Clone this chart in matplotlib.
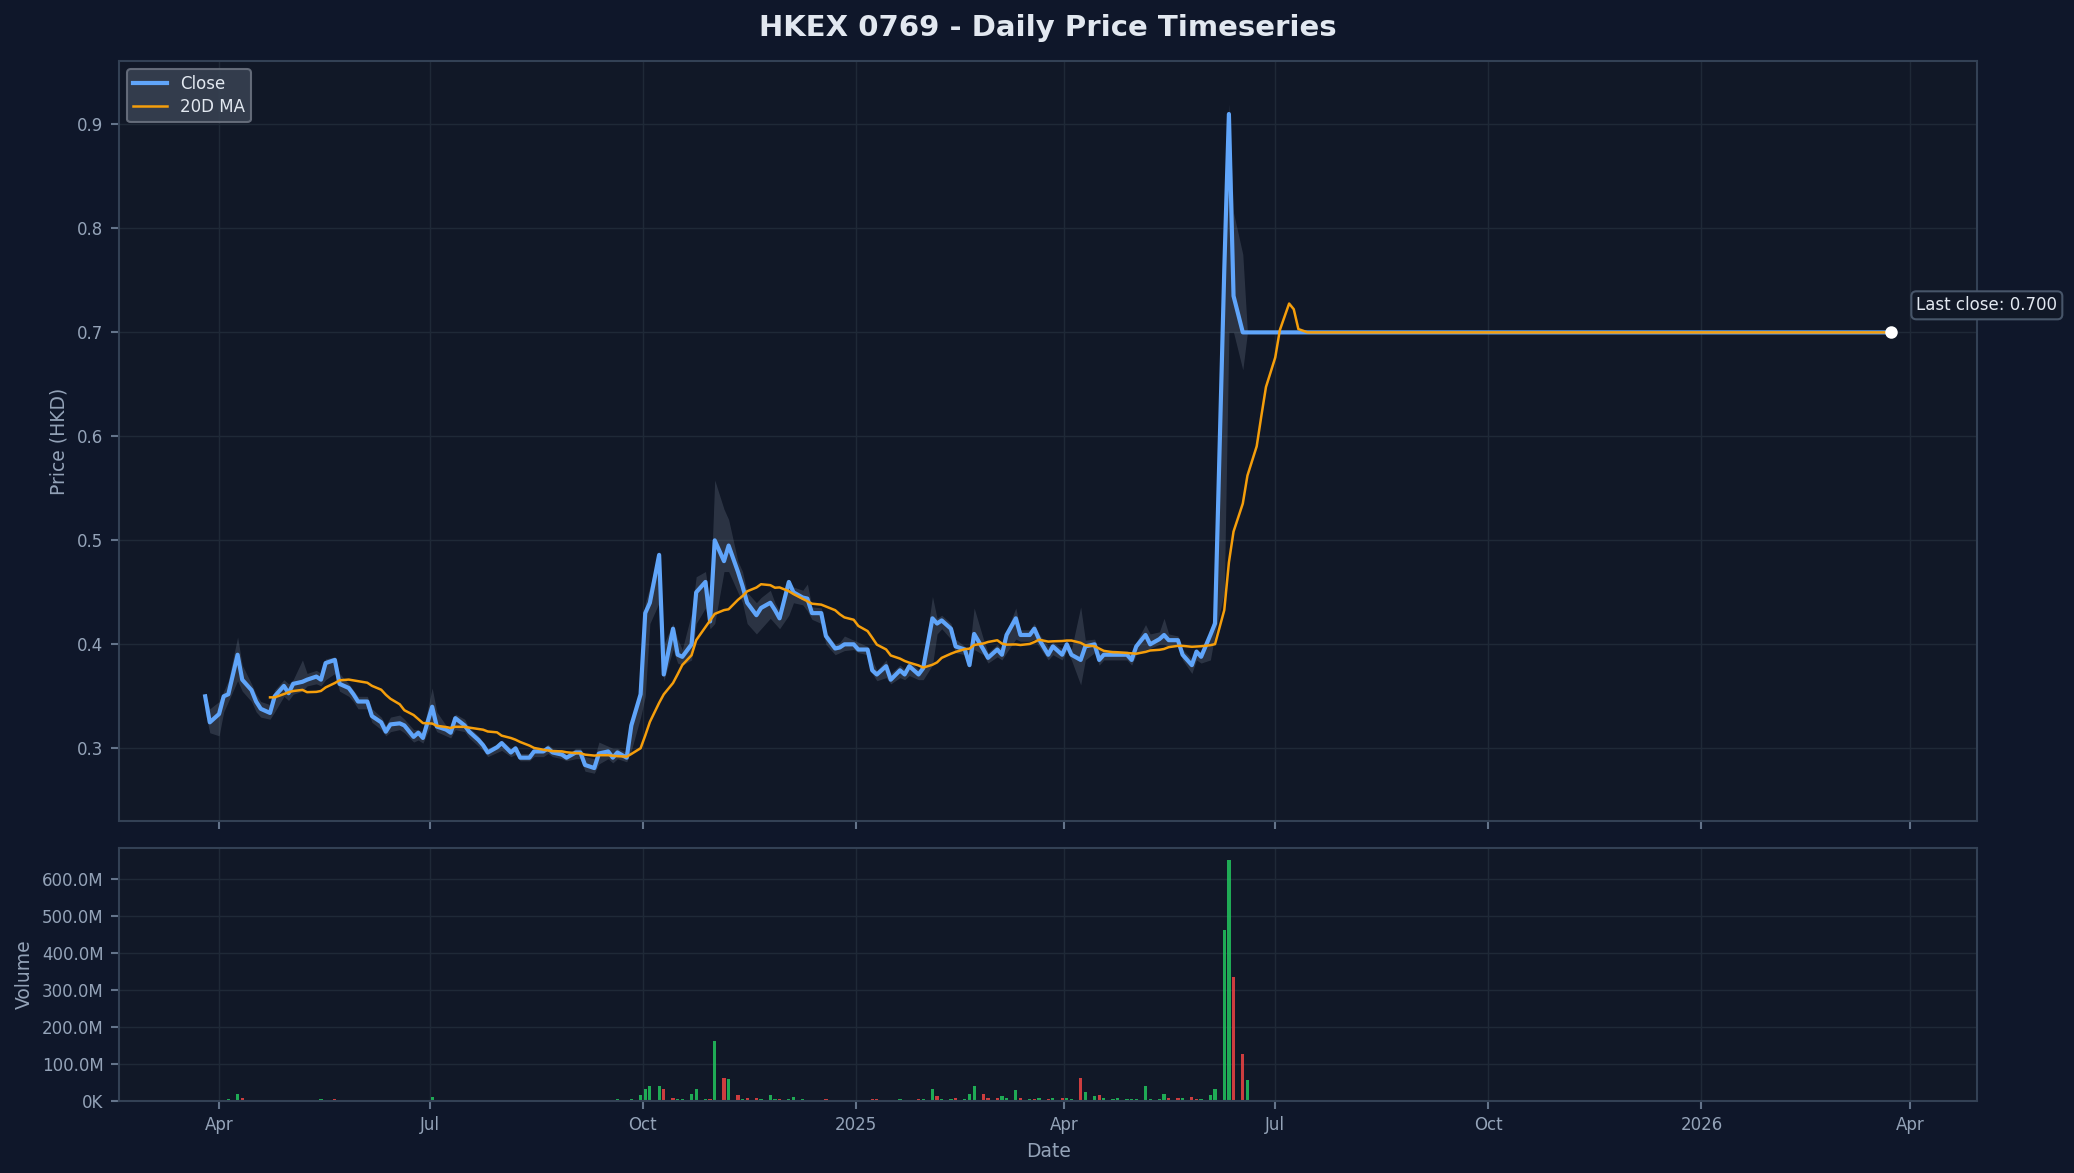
import matplotlib
matplotlib.use("Agg")
import matplotlib.pyplot as plt
import matplotlib.dates as mdates
import matplotlib.ticker as mticker
import numpy as np
import pandas as pd

# samples every 2 business days from 2024-03-26, one line per month
start = "2024-03-26"
end = "2026-03-25"

close = [
    0.350, 0.325,
    0.333, 0.350, 0.352, 0.390, 0.366, 0.356, 0.345, 0.338, 0.334, 0.350, 0.360,
    0.353, 0.362, 0.364, 0.366, 0.369, 0.366, 0.382, 0.385, 0.362, 0.358, 0.352, 0.345,
    0.345, 0.331, 0.325, 0.316, 0.323, 0.324, 0.322, 0.311, 0.315, 0.310,
    0.340, 0.321, 0.318, 0.315, 0.329, 0.322, 0.316, 0.308, 0.303, 0.296, 0.301,
    0.305, 0.296, 0.300, 0.291, 0.291, 0.297, 0.297, 0.300, 0.296, 0.294, 0.291,
    0.296, 0.296, 0.284, 0.281, 0.295, 0.297, 0.291, 0.296, 0.291, 0.322, 0.352,
    0.430, 0.440, 0.486, 0.371, 0.415, 0.390, 0.388, 0.400, 0.450, 0.460, 0.422,
    0.500, 0.480, 0.495, 0.470, 0.456, 0.440, 0.428, 0.435, 0.440, 0.433, 0.425,
    0.460, 0.450, 0.445, 0.444, 0.430, 0.430, 0.408, 0.396, 0.397, 0.400, 0.400,
    0.395, 0.395, 0.375, 0.371, 0.379, 0.366, 0.375, 0.371, 0.379, 0.371, 0.377,
    0.425, 0.420, 0.423, 0.415, 0.398, 0.395, 0.380, 0.410, 0.395, 0.387,
    0.395, 0.390, 0.409, 0.425, 0.409, 0.409, 0.415, 0.405, 0.390, 0.398, 0.390,
    0.400, 0.390, 0.385, 0.398, 0.400, 0.385, 0.390, 0.390, 0.390, 0.390, 0.385,
    0.398, 0.409, 0.400, 0.405, 0.409, 0.404, 0.404, 0.390, 0.380, 0.393, 0.388,
    0.409, 0.420, 0.760, 0.910, 0.735, 0.700, 0.700,
]

high = [
    0.352, 0.338,
    0.345, 0.355, 0.365, 0.407, 0.380, 0.362, 0.352, 0.345, 0.342, 0.356, 0.366,
    0.362, 0.366, 0.385, 0.372, 0.375, 0.372, 0.386, 0.388, 0.372, 0.362, 0.356, 0.350,
    0.350, 0.338, 0.330, 0.322, 0.330, 0.332, 0.328, 0.318, 0.318, 0.316,
    0.358, 0.335, 0.322, 0.320, 0.333, 0.328, 0.320, 0.312, 0.306, 0.300, 0.304,
    0.308, 0.300, 0.302, 0.295, 0.295, 0.300, 0.300, 0.304, 0.300, 0.298, 0.294,
    0.300, 0.300, 0.292, 0.290, 0.306, 0.302, 0.300, 0.300, 0.296, 0.326, 0.358,
    0.440, 0.455, 0.490, 0.400, 0.420, 0.405, 0.395, 0.430, 0.465, 0.470, 0.440,
    0.558, 0.530, 0.520, 0.480, 0.470, 0.450, 0.440, 0.445, 0.452, 0.440, 0.432,
    0.462, 0.455, 0.452, 0.458, 0.436, 0.435, 0.412, 0.400, 0.402, 0.408, 0.404,
    0.402, 0.398, 0.385, 0.375, 0.385, 0.372, 0.380, 0.376, 0.384, 0.376, 0.382,
    0.446, 0.425, 0.428, 0.420, 0.405, 0.398, 0.395, 0.435, 0.405, 0.392,
    0.400, 0.395, 0.412, 0.435, 0.414, 0.414, 0.420, 0.410, 0.398, 0.402, 0.396,
    0.404, 0.395, 0.436, 0.404, 0.405, 0.395, 0.394, 0.395, 0.394, 0.394, 0.390,
    0.402, 0.419, 0.410, 0.412, 0.425, 0.410, 0.408, 0.395, 0.386, 0.396, 0.392,
    0.412, 0.435, 0.780, 0.920, 0.815, 0.775, 0.700,
]

low = [
    0.335, 0.315,
    0.312, 0.335, 0.345, 0.365, 0.355, 0.345, 0.335, 0.330, 0.328, 0.335, 0.350,
    0.346, 0.352, 0.355, 0.360, 0.362, 0.360, 0.366, 0.372, 0.355, 0.350, 0.345, 0.338,
    0.338, 0.325, 0.318, 0.312, 0.316, 0.318, 0.315, 0.306, 0.308, 0.305,
    0.325, 0.316, 0.312, 0.310, 0.318, 0.316, 0.310, 0.302, 0.298, 0.292, 0.296,
    0.298, 0.292, 0.294, 0.288, 0.288, 0.292, 0.292, 0.295, 0.292, 0.290, 0.288,
    0.290, 0.290, 0.278, 0.276, 0.285, 0.290, 0.286, 0.290, 0.287, 0.298, 0.330,
    0.350, 0.420, 0.440, 0.365, 0.395, 0.382, 0.380, 0.385, 0.420, 0.435, 0.415,
    0.420, 0.470, 0.470, 0.450, 0.440, 0.420, 0.410, 0.415, 0.425, 0.420, 0.415,
    0.428, 0.440, 0.438, 0.432, 0.424, 0.420, 0.400, 0.390, 0.392, 0.394, 0.395,
    0.392, 0.390, 0.372, 0.365, 0.368, 0.362, 0.368, 0.366, 0.370, 0.366, 0.366,
    0.380, 0.410, 0.415, 0.405, 0.392, 0.390, 0.378, 0.395, 0.390, 0.382,
    0.388, 0.385, 0.392, 0.405, 0.403, 0.403, 0.405, 0.398, 0.385, 0.390, 0.385,
    0.394, 0.385, 0.361, 0.385, 0.392, 0.380, 0.385, 0.385, 0.385, 0.385, 0.380,
    0.390, 0.395, 0.396, 0.400, 0.400, 0.398, 0.398, 0.385, 0.372, 0.385, 0.382,
    0.385, 0.410, 0.450, 0.700, 0.700, 0.664, 0.700,
]

# volume in millions of shares
volume_m = [
    1, 2,
    1, 2, 3, 18, 7, 1, 1, 1, 2, 1, 1,
    1, 2, 1, 1, 2, 5, 1, 5, 1, 1, 1, 1,
    1, 1, 1, 1, 1, 1, 1, 1, 1, 1,
    10, 2, 1, 1, 2, 1, 1, 1, 1, 1, 1,
    1, 1, 1, 1, 1, 1, 1, 1, 1, 1, 1,
    1, 1, 1, 1, 1, 1, 2, 3, 2, 5, 15,
    30, 38, 38, 30, 8, 4, 3, 18, 30, 5, 5,
    160, 60, 58, 15, 5, 8, 8, 3, 15, 3, 3,
    3, 10, 3, 2, 2, 2, 3, 1, 1, 1, 1,
    1, 1, 3, 3, 1, 1, 3, 1, 1, 3, 3,
    30, 12, 5, 3, 7, 3, 18, 40, 18, 8,
    8, 12, 6, 28, 7, 3, 3, 7, 3, 7, 6,
    8, 3, 60, 22, 12, 15, 7, 3, 7, 3, 3,
    3, 38, 5, 5, 17, 8, 6, 8, 10, 5, 5,
    15, 30, 460, 650, 335, 125, 55,
]

# sessions that closed below their open (red volume bars)
red_days = [
    "2024-04-11", "2024-05-21", "2024-06-06", "2024-06-12", "2024-06-24",
    "2024-07-04", "2024-07-16", "2024-08-05", "2024-08-09", "2024-09-06",
    "2024-09-18", "2024-10-10", "2024-10-14", "2024-10-30", "2024-11-05",
    "2024-11-11", "2024-11-15", "2024-11-19", "2024-11-29", "2024-12-19",
    "2025-01-08", "2025-01-10", "2025-01-28", "2025-02-05", "2025-02-13",
    "2025-02-25", "2025-02-27", "2025-03-03", "2025-03-13", "2025-03-19",
    "2025-03-25", "2025-03-31", "2025-04-08", "2025-04-16", "2025-05-16",
    "2025-05-20", "2025-05-26", "2025-05-28", "2025-06-13", "2025-06-17",
]

idx = pd.bdate_range(start, periods=len(close), freq="2B")
df = pd.DataFrame({"close": close, "high": high, "low": low,
                   "volume": np.array(volume_m, dtype=float) * 1e6}, index=idx)
# no trades after the last print: price carried forward
df = df.reindex(pd.bdate_range(start, end, freq="2B"))
df[["close", "high", "low"]] = df[["close", "high", "low"]].ffill()
df["volume"] = df["volume"].fillna(0)
# 20 sessions (holidays included) on the 2-day grid
df["ma20"] = df["close"].rolling(11).mean()

# colours
bg = "#0f172a"
panel = "#111827"
edge = "#334155"
text_c = "#94a3b8"
light = "#e2e8f0"
blue = "#60a5fa"
amber = "#f59e0b"
green = "#22c55e"
red = "#ef4444"

fig = plt.figure(figsize=(13.83, 7.82), dpi=150, facecolor=bg)
ax = fig.add_axes([0.0574, 0.300, 0.8958, 0.648])
axv = fig.add_axes([0.0574, 0.0618, 0.8958, 0.2152], sharex=ax)

for a in (ax, axv):
    a.set_facecolor(panel)
    for s in a.spines.values():
        s.set_color(edge)
        s.set_linewidth(1.0)
    a.tick_params(colors=text_c, labelsize=8, length=4, width=1)
    a.tick_params(axis="both", color="#64748b")
    a.grid(True, color="#1f2937", linewidth=0.7)
    a.set_axisbelow(True)

# price panel
ax.fill_between(df.index, df["low"], df["high"], color="#94a3b8", alpha=0.2,
                linewidth=0)
ax.plot(df.index, df["close"], color=blue, linewidth=2.0, label="Close")
ax.plot(df.index, df["ma20"], color=amber, linewidth=1.2, label="20D MA")
last_d = df.index[-1]
last_c = df["close"].iloc[-1]
ax.plot([last_d], [last_c], "o", color="white", markersize=5, zorder=5)
ax.annotate(f"Last close: {last_c:.3f}", xy=(last_d, last_c), xytext=(12, 13),
            textcoords="offset points", ha="left", va="center", fontsize=8,
            color=light,
            bbox=dict(boxstyle="round,pad=0.3", fc=panel, ec="#475569", lw=1))
ax.set_ylim(0.230, 0.961)
ax.set_ylabel("Price (HKD)", color=text_c, fontsize=9)
ax.tick_params(labelbottom=False)
leg = ax.legend(loc="upper left", fontsize=8, facecolor="#374151",
                edgecolor="#6b7280", framealpha=0.9, labelspacing=0.3,
                borderpad=0.35)
for t in leg.get_texts():
    t.set_color(light)

# volume panel
is_red = df.index.isin(pd.to_datetime(red_days))
cols = np.where(is_red, red, green)
axv.bar(df.index, df["volume"], width=1.4, color=cols, alpha=0.85, linewidth=0)
axv.yaxis.set_major_locator(mticker.MultipleLocator(100e6))
axv.yaxis.set_major_formatter(mticker.FuncFormatter(
    lambda v, p: f"{v / 1e6:.1f}M" if v >= 1e6 else f"{v / 1e3:.0f}K"))
axv.set_ylabel("Volume", color=text_c, fontsize=9)
axv.set_xlabel("Date", color=text_c, fontsize=9)

loc = mdates.MonthLocator(bymonth=[1, 4, 7, 10])
axv.xaxis.set_major_locator(loc)
axv.xaxis.set_major_formatter(mdates.ConciseDateFormatter(loc, show_offset=False))

fig.suptitle("HKEX 0769 - Daily Price Timeseries", color=light, fontsize=14,
             fontweight="bold", x=0.5053, y=0.976, va="center")

fig.savefig("out.png", dpi=150, facecolor=bg)
